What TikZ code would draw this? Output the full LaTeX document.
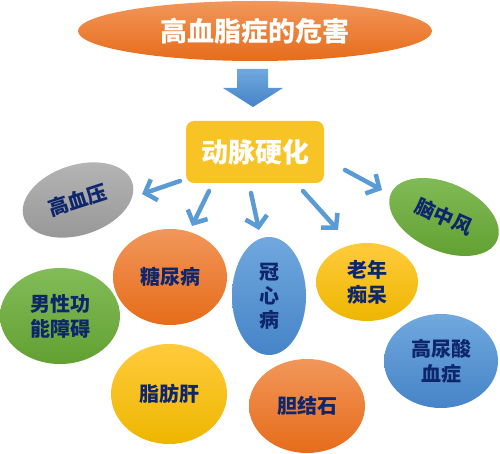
\documentclass[tikz,border=0pt]{standalone}
\usepackage{fontspec}
\setmainfont{Noto Sans CJK SC}
\usetikzlibrary{shapes.geometric,arrows.meta,calc}
\definecolor{navy}{RGB}{14,38,108}
\definecolor{orangeT}{RGB}{242,150,90}
\definecolor{orangeB}{RGB}{230,108,26}
\definecolor{yellowT}{RGB}{255,203,60}
\definecolor{yellowB}{RGB}{238,182,0}
\definecolor{blueT}{RGB}{112,168,222}
\definecolor{blueB}{RGB}{70,132,200}
\definecolor{greenT}{RGB}{130,188,88}
\definecolor{greenB}{RGB}{98,160,50}
\definecolor{grayT}{RGB}{182,182,182}
\definecolor{grayB}{RGB}{150,150,150}
\definecolor{arrowblue}{RGB}{91,155,213}
\begin{document}
\begin{tikzpicture}[x=1pt,y=-1pt]
\tikzstyle{bubble} = [ellipse, inner sep=0pt, text=navy, align=center, font=\bfseries\fontsize{20}{25}\selectfont]
\tikzstyle{bubble_orange} = [bubble, top color=orangeT, bottom color=orangeB]
\tikzstyle{bubble_yellow} = [bubble, top color=yellowT, bottom color=yellowB]
\tikzstyle{bubble_blue} = [bubble, top color=blueT, bottom color=blueB]
\tikzstyle{bubble_green} = [bubble, top color=greenT, bottom color=greenB]
\tikzstyle{bubble_gray} = [bubble, top color=grayT, bottom color=grayB]
\tikzstyle{arrow_style} = [draw=arrowblue, line width=4.5pt, line cap=round, -{Straight Barb[length=10pt,width=22pt]}]
    \useasboundingbox (0,0) rectangle (500,454);

    \node[ellipse, inner sep=0pt, minimum width=354pt, minimum height=60pt, top color=orangeT, bottom color=orangeB, text=white, font=\bfseries\fontsize{27}{30}\selectfont] (title) at (255,31) {高血脂症的危害};
    \shade[top color=blueT, bottom color=blueB] (237,69) -- (268,69) -- (268,88) -- (283,88) -- (253,107) -- (223,88) -- (237,88) -- cycle;
    \node[rectangle, rounded corners=8pt, minimum width=138pt, minimum height=62pt, fill=yellowT!60!yellowB, text=white, font=\bfseries\fontsize{27}{30}\selectfont] (hub) at (255,152) {动脉硬化};

    \node[bubble_gray, minimum width=114pt, minimum height=70pt, rotate=18] (hyper) at (78,200) {高血压};
    \node[bubble_green, minimum width=116pt, minimum height=68pt, rotate=-24] (stroke) at (444,217) {脑中风};
    \node[bubble_orange, minimum width=114pt, minimum height=96pt] (diab) at (170,277) {糖尿病};
    \node[bubble_blue, minimum width=74pt, minimum height=118pt, font=\bfseries\fontsize{20}{24}\selectfont] (chd) at (269,296) {冠\\心\\病};
    \node[bubble_yellow, minimum width=102pt, minimum height=78pt] (dementia) at (367,282) {老年\\痴呆};
    \node[bubble_green, minimum width=120pt, minimum height=96pt] (male) at (60,316) {男性功\\能障碍};
    \node[bubble_blue, minimum width=114pt, minimum height=94pt] (uric) at (441,361) {高尿酸\\血症};
    \node[bubble_yellow, minimum width=116pt, minimum height=100pt] (liver) at (169,394) {脂肪肝};
    \node[bubble_orange, minimum width=116pt, minimum height=94pt] (gall) at (307,406) {胆结石};

    \draw[arrow_style] ($(hub)+(-75,29)$) -- ($(hyper)+(64,-6)$);
    \draw[arrow_style] ($(hub)+(-46,39)$) -- ($(diab)+(22,-51)$);
    \draw[arrow_style] ($(hub)+(-4,41)$) -- ($(chd)+(-10,-66)$);
    \draw[arrow_style] ($(hub)+(48,39)$) -- ($(dementia)+(-29,-52)$);
    \draw[arrow_style] ($(hub)+(90,18)$) -- ($(stroke)+(-62,-27)$);
\end{tikzpicture}
\end{document}
